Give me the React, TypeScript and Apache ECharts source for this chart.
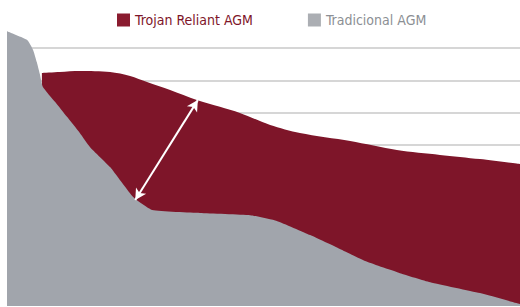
import React, { useEffect, useRef } from "react";
import * as echarts from "echarts";

// x: share of battery life (0–100), y: relative capacity (0–90)
const seriesNames = ["Trojan Reliant AGM", "Tradicional AGM"];

const trojanX = [6.8, 10.3, 14.2, 20.1, 24.0, 27.3, 31.8, 37.0, 41.5, 45.4, 51.3, 57.1, 66.9, 76.0, 84.4, 92.2, 100];
const trojanY = [72.3, 72.6, 72.9, 72.6, 71.4, 69.5, 67.0, 63.9, 61.8, 59.9, 56.2, 53.7, 51.2, 48.4, 46.9, 45.6, 44.1];

const tradX = [0, 3.9, 5.1, 5.8, 6.4, 7.0, 9.4, 11.7, 14.2, 16.2, 20.1, 24.6, 28.3, 37.6, 47.4, 52.6, 59.1, 64.9, 70.2, 76.6, 82.5, 92.2, 100];
const tradY = [85.3, 82.6, 79.4, 75.7, 72.0, 68.0, 63.3, 58.7, 53.7, 49.3, 43.1, 33.8, 29.8, 28.9, 28.2, 26.4, 22.0, 17.7, 13.7, 10.2, 7.4, 4.0, 0.6];

// double-headed arrow showing the capacity gap
const arrowFrom = [25.0, 32.9];
const arrowTo = [37.2, 63.9];

const RED = "#7e1529";
const GRAY = "#a1a5ac";

export default function App() {
  const ref = useRef<HTMLDivElement>(null);
  useEffect(() => {
    if (!ref.current) return;
    const chart = echarts.init(ref.current, undefined, { renderer: "svg" });
    const pairs = (xs: number[], ys: number[]) => xs.map((x, i) => [x, ys[i]]);
    chart.setOption({
      animation: false,
      legend: {
        left: 117,
        top: 13,
        padding: 0,
        itemWidth: 13,
        itemHeight: 13,
        itemGap: 55,
        icon: "rect",
        textStyle: {
          fontFamily: "'Liberation Sans Narrow', 'DejaVu Sans Condensed', 'Roboto', sans-serif",
          fontSize: 14,
        },
        data: [
          { name: seriesNames[0], itemStyle: { color: "#8a1b2f" }, textStyle: { color: "#7e1529" } },
          { name: seriesNames[1], itemStyle: { color: "#abaeb3" }, textStyle: { color: "#8c8f94" } },
        ],
      },
      grid: { left: 7, right: 0, top: 16, bottom: 1 },
      xAxis: {
        type: "value",
        min: 0,
        max: 100,
        axisLine: { show: false },
        axisTick: { show: false },
        axisLabel: { show: false },
        splitLine: { show: false },
      },
      yAxis: {
        type: "value",
        min: 0,
        max: 90,
        interval: 10,
        axisLine: { show: false },
        axisTick: { show: false },
        axisLabel: { show: false },
        splitLine: {
          show: true,
          showMinLine: false,
          showMaxLine: false,
          lineStyle: { color: "#d6d6d6", width: 2 },
        },
      },
      series: [
        {
          name: seriesNames[0],
          type: "line",
          z: 2,
          smooth: 0.3,
          showSymbol: false,
          lineStyle: { width: 0 },
          itemStyle: { color: RED },
          areaStyle: { color: RED, opacity: 1 },
          data: pairs(trojanX, trojanY),
          markLine: {
            silent: true,
            symbol: ["arrow", "arrow"],
            symbolSize: [9, 11],
            label: { show: false },
            lineStyle: { color: "#ffffff", width: 2, type: "solid" },
            data: [[{ coord: arrowFrom }, { coord: arrowTo }]],
          },
        },
        {
          name: seriesNames[1],
          type: "line",
          z: 3,
          smooth: 0.15,
          showSymbol: false,
          lineStyle: { width: 0 },
          itemStyle: { color: GRAY },
          areaStyle: { color: GRAY, opacity: 1 },
          data: pairs(tradX, tradY),
        },
      ],
    });
    return () => chart.dispose();
  }, []);
  return (
    <div
      ref={ref}
      style={{ position: "fixed", left: 0, top: 0, width: 520, height: 307, background: "#ffffff" }}
    />
  );
}
